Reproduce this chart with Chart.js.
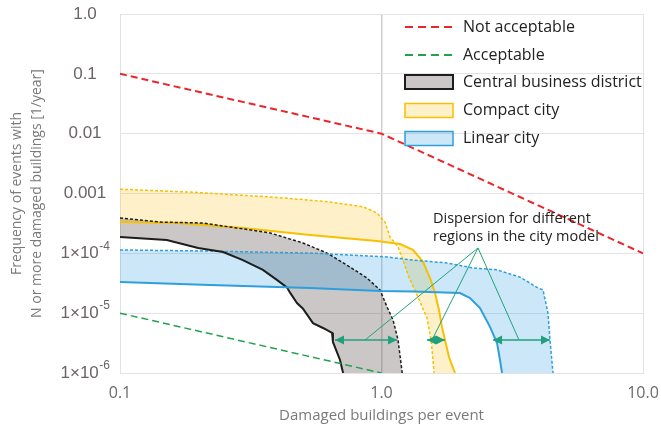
<!DOCTYPE html>
<html>
<head>
<meta charset="utf-8">
<script src="https://cdn.jsdelivr.net/npm/chart.js@4.4.1/dist/chart.umd.min.js"></script>
<style>
  html, body { margin: 0; padding: 0; background: #fff; }
  canvas { display: block; }
</style>
</head>
<body>
<canvas id="riskChart" width="661" height="426"></canvas>
<script>
// axis ticks
var xTicks = [0.1, 1, 10];
var xTickLabels = ["0.1", "1.0", "10.0"];
var yTicks = [1e-6, 1e-5, 1e-4, 1e-3, 0.01, 0.1, 1];
var yTickBase = ["1×10", "1×10", "1×10", "0.001", "0.01", "0.1", "1.0"];
var yTickExp = ["-6", "-5", "-4", "", "", "", ""];

// criteria lines
var notAcceptableX = [0.1, 1, 10];
var notAcceptableY = [0.1, 0.01, 1e-4];
var acceptableX = [0.1, 1];
var acceptableY = [1e-5, 1e-6];

// central business district (upper = dashed, lower = solid)
var cbdUpperX = [0.1, 0.142, 0.208, 0.280, 0.375, 0.501, 0.619, 0.758, 0.880, 0.987, 1.05, 1.107, 1.157, 1.20];
var cbdUpperY = [3.9e-4, 3.33e-4, 3.21e-4, 2.65e-4, 2.19e-4, 1.49e-4, 1.01e-4, 5.9e-5, 3.87e-5, 2.44e-5, 1.27e-5, 7.7e-6, 3.56e-6, 1e-6];
var cbdLowerX = [0.1, 0.151, 0.199, 0.248, 0.295, 0.352, 0.398, 0.435, 0.447, 0.475, 0.50, 0.547, 0.60, 0.647, 0.652, 0.694, 0.713];
var cbdLowerY = [1.87e-4, 1.67e-4, 1.23e-4, 1.05e-4, 7.7e-5, 5.3e-5, 3.6e-5, 2.7e-5, 2.2e-5, 1.48e-5, 1.2e-5, 6.8e-6, 5.6e-6, 4.7e-6, 3.3e-6, 1.65e-6, 1e-6];

// compact city
var compactUpperX = [0.1, 0.190, 0.398, 0.619, 0.850, 0.961, 1.031, 1.078, 1.157, 1.208, 1.263, 1.367, 1.493, 1.547, 1.574, 1.588];
var compactUpperY = [1.18e-3, 1.05e-3, 8.6e-4, 7.3e-4, 6.0e-4, 4.72e-4, 3.33e-4, 1.87e-4, 1.28e-4, 7.7e-5, 4.35e-5, 2.01e-5, 8.3e-6, 3.56e-6, 1.65e-6, 1e-6];
var compactLowerX = [0.1, 0.165, 0.295, 0.533, 0.961, 1.177, 1.319, 1.441, 1.533, 1.602, 1.659, 1.703, 1.749, 1.812, 1.910];
var compactLowerY = [3.33e-4, 3.21e-4, 2.65e-4, 2.02e-4, 1.61e-4, 1.43e-4, 1.14e-4, 7.2e-5, 3.87e-5, 2.17e-5, 1.13e-5, 5.9e-6, 3.56e-6, 1.85e-6, 1e-6];

// linear city
var linearUpperX = [0.1, 0.221, 0.533, 1.05, 1.319, 1.780, 2.239, 2.766, 3.385, 3.932, 4.146, 4.332, 4.409, 4.527];
var linearUpperY = [1.14e-4, 1.09e-4, 1.01e-4, 8.7e-5, 7.7e-5, 6.9e-5, 5.7e-5, 5.3e-5, 4.0e-5, 2.7e-5, 2.44e-5, 1.0e-5, 3.56e-6, 1e-6];
var linearLowerX = [0.1, 0.221, 0.533, 0.987, 1.319, 1.996, 2.180, 2.380, 2.600, 2.766, 2.839, 2.890];
var linearLowerY = [3.32e-5, 2.96e-5, 2.63e-5, 2.35e-5, 2.3e-5, 2.17e-5, 1.79e-5, 1.22e-5, 5.9e-6, 3.17e-6, 1.65e-6, 1e-6];

// dispersion annotation
var noteLines = ["Dispersion for different", "regions in the city model"];
var noteX = 1.574;
var noteY = 3.75e-4;
var apexX = 2.339;
var apexY = 1.23e-4;
var arrowY = 3.56e-6;
var arrowFromX = [0.664, 1.493, 2.670];
var arrowToX = [1.146, 1.749, 4.409];
var leaderX = [0.865, 1.560, 3.356];

var legendNames = ["Not acceptable", "Acceptable", "Central business district", "Compact city", "Linear city"];

var RED = "#e8262b", GREEN = "#23a24d", TEAL = "#22a07c";
var BLACK = "#1d1d1d", GOLD = "#f7c000", BLUE = "#2e9fdc";
var GREY_FILL = "rgba(75, 62, 62, 0.29)";
var GOLD_FILL = "rgba(250, 200, 40, 0.25)";
var BLUE_FILL = "rgba(30, 150, 225, 0.23)";

function pts(xs, ys) {
    return xs.map(function (x, i) { return { x: x, y: ys[i] }; });
}

function band(ux, uy, lx, ly) {
    return pts(ux, uy).concat(pts(lx, ly).reverse());
}

function lineSet(data, color, width, dash, order) {
    return {
        data: data,
        borderColor: color,
        borderWidth: width,
        borderDash: dash || [],
        fill: false,
        pointRadius: 0,
        order: order
    };
}

function fillSet(data, color, order) {
    return {
        data: data,
        borderWidth: 0,
        borderColor: "rgba(0,0,0,0)",
        backgroundColor: color,
        fill: "shape",
        pointRadius: 0,
        order: order
    };
}

var datasets = [
    fillSet(band(compactUpperX, compactUpperY, compactLowerX, compactLowerY), GOLD_FILL, 30),
    fillSet(band(cbdUpperX, cbdUpperY, cbdLowerX, cbdLowerY), GREY_FILL, 29),
    fillSet(band(linearUpperX, linearUpperY, linearLowerX, linearLowerY), BLUE_FILL, 28),
    lineSet(pts(compactUpperX, compactUpperY), GOLD, 1.5, [3, 2], 10),
    lineSet(pts(compactLowerX, compactLowerY), GOLD, 2, null, 9),
    lineSet(pts(cbdUpperX, cbdUpperY), BLACK, 1.5, [3, 2], 8),
    lineSet(pts(linearUpperX, linearUpperY), BLUE, 1.5, [3, 2], 7),
    lineSet(pts(cbdLowerX, cbdLowerY), BLACK, 2, null, 6),
    lineSet(pts(linearLowerX, linearLowerY), BLUE, 2, null, 5),
    lineSet(pts(notAcceptableX, notAcceptableY), RED, 2, [7, 4], 4),
    lineSet(pts(acceptableX, acceptableY), GREEN, 1.5, [7, 4], 3)
];

// dispersion leaders and arrow shafts
arrowFromX.forEach(function (fx, i) {
    datasets.push(lineSet([{ x: apexX, y: apexY }, { x: leaderX[i], y: arrowY }], TEAL, 1, null, 1));
    datasets.push(lineSet([{ x: fx, y: arrowY }, { x: arrowToX[i], y: arrowY }], TEAL, 1.5, null, 1));
});

var overlay = {
    id: "overlay",
    afterDatasetsDraw: function (c) {
        var ctx = c.ctx, xs = c.scales.x, ys = c.scales.y;
        var py = ys.getPixelForValue(arrowY);
        ctx.save();
        ctx.fillStyle = TEAL;
        function head(x, dir) {
            ctx.beginPath();
            ctx.moveTo(x, py);
            ctx.lineTo(x - dir * 9, py - 4.5);
            ctx.lineTo(x - dir * 9, py + 4.5);
            ctx.closePath();
            ctx.fill();
        }
        arrowFromX.forEach(function (fx, i) {
            head(xs.getPixelForValue(fx), -1);
            head(xs.getPixelForValue(arrowToX[i]), 1);
        });
        // note text
        ctx.fillStyle = "#222";
        ctx.font = "14.5px 'Open Sans'";
        ctx.textBaseline = "middle";
        ctx.textAlign = "left";
        var nx = xs.getPixelForValue(noteX), ny = ys.getPixelForValue(noteY);
        noteLines.forEach(function (t, i) { ctx.fillText(t, nx, ny + i * 18); });
        ctx.restore();
    },
    afterDraw: function (c) {
        var ctx = c.ctx, a = c.chartArea, ys = c.scales.y;
        ctx.save();
        // y tick labels with raised exponents, centred in the axis box
        ctx.fillStyle = "#6b6464";
        ctx.textBaseline = "middle";
        ctx.textAlign = "left";
        var cx = ys.left + 85;
        yTicks.forEach(function (v, i) {
            var py = ys.getPixelForValue(v);
            ctx.font = "17px 'Liberation Sans'";
            var wb = ctx.measureText(yTickBase[i]).width;
            ctx.font = "12px 'Liberation Sans'";
            var we = yTickExp[i] ? ctx.measureText(yTickExp[i]).width : 0;
            var left = cx - (wb + we) / 2;
            ctx.font = "17px 'Liberation Sans'";
            ctx.fillText(yTickBase[i], left, py);
            if (yTickExp[i]) {
                ctx.font = "12px 'Liberation Sans'";
                ctx.fillText(yTickExp[i], left + wb + 0.5, py - 7);
            }
        });

        // legend
        var x0 = a.right - 238, x1 = a.right - 190, tx = a.right - 180;
        var rows = [13, 41, 68, 96.5, 124.5];
        ctx.font = "16px 'Open Sans'";
        ctx.textBaseline = "middle";
        [RED, GREEN].forEach(function (col, i) {
            var y = a.top + rows[i];
            ctx.strokeStyle = col;
            ctx.lineWidth = 2;
            ctx.setLineDash([8, 5]);
            ctx.beginPath();
            ctx.moveTo(x0, y);
            ctx.lineTo(x1, y);
            ctx.stroke();
        });
        ctx.setLineDash([]);
        var boxes = [[GREY_FILL, BLACK, 2], [GOLD_FILL, GOLD, 1.5], [BLUE_FILL, BLUE, 1.5]];
        boxes.forEach(function (b, i) {
            var y = a.top + rows[i + 2];
            ctx.fillStyle = b[0];
            ctx.fillRect(x0, y - 7, x1 - x0, 14);
            ctx.strokeStyle = b[1];
            ctx.lineWidth = b[2];
            ctx.strokeRect(x0, y - 7, x1 - x0, 14);
        });
        ctx.fillStyle = "#222";
        legendNames.forEach(function (n, i) {
            ctx.fillText(n, tx, a.top + rows[i]);
        });
        ctx.restore();
    }
};

var chart = new Chart(document.getElementById("riskChart").getContext("2d"), {
    type: "line",
    data: { datasets: datasets },
    plugins: [overlay],
    options: {
        responsive: false,
        animation: false,
        devicePixelRatio: 1,
        layout: { padding: { top: 14, right: 18, left: 0, bottom: 0 } },
        plugins: {
            legend: { display: false },
            tooltip: { enabled: false }
        },
        elements: { point: { radius: 0, hitRadius: 0 }, line: { tension: 0 } },
        scales: {
            x: {
                type: "logarithmic",
                min: 0.1,
                max: 10,
                afterBuildTicks: function (s) {
                    s.ticks = xTicks.map(function (v) { return { value: v }; });
                },
                afterFit: function (s) {
                    s.height = 53;
                    s.paddingLeft = 0;
                    s.paddingRight = 0;
                },
                ticks: {
                    autoSkip: false,
                    maxRotation: 0,
                    padding: 11,
                    color: "#6b6b6b",
                    font: { family: "'Open Sans'", size: 16 },
                    callback: function (v, i) { return xTickLabels[i]; }
                },
                grid: {
                    drawTicks: false,
                    color: function (ctx) { return ctx.tick && ctx.tick.value === 1 ? "#cfcfcf" : "#e3e3e3"; },
                    lineWidth: function (ctx) { return ctx.tick && ctx.tick.value === 1 ? 1.5 : 1; }
                },
                border: { color: "#e3e3e3" },
                title: {
                    display: true,
                    text: "Damaged buildings per event",
                    color: "#7a7a7a",
                    font: { family: "'Open Sans'", size: 15 },
                    padding: { top: 0, bottom: 1 }
                }
            },
            y: {
                type: "logarithmic",
                min: 1e-6,
                max: 1,
                afterBuildTicks: function (s) {
                    s.ticks = yTicks.map(function (v) { return { value: v }; });
                },
                afterFit: function (s) {
                    s.width = 120;
                    s.paddingTop = 0;
                    s.paddingBottom = 0;
                },
                ticks: { display: false, autoSkip: false },
                grid: { drawTicks: false, color: "#e3e3e3" },
                border: { color: "#e3e3e3" },
                title: {
                    display: true,
                    text: ["Frequency of events with", "N or more damaged buildings [1/year]"],
                    color: "#7a7a7a",
                    font: { family: "'Open Sans'", size: 14, lineHeight: 1.43 },
                    padding: { top: 7, bottom: 0 }
                }
            }
        }
    }
});
</script>
</body>
</html>
